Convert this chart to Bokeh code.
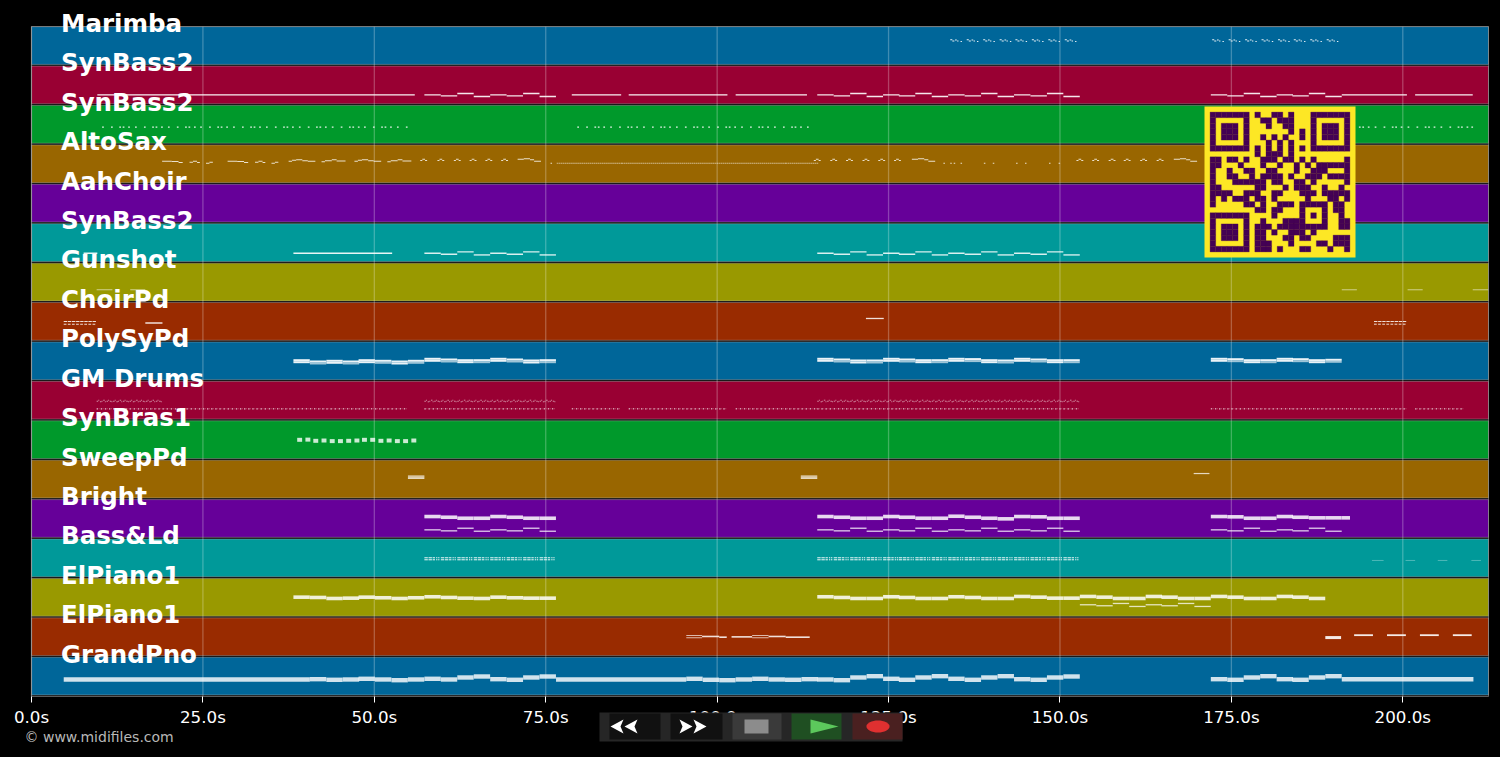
from bokeh.plotting import figure
from bokeh.models import Range1d, FixedTicker, ColumnDataSource, LinearAxis
from bokeh.core.properties import value
from bokeh.embed import file_html
from bokeh.resources import INLINE
import math

# ---------------------------------------------------------------- chart data
TRACK_NAMES = ["Marimba", "SynBass2", "SynBass2", "AltoSax", "AahChoir", "SynBass2", "Gunshot",
               "ChoirPd", "PolySyPd", "GM Drums", "SynBras1", "SweepPd", "Bright", "Bass&Ld",
               "ElPiano1", "ElPiano1", "GrandPno"]
BAND_COLORS = ["#006699", "#990033", "#00992B", "#996600", "#660099", "#009999", "#999900", "#992B00",
               "#006699", "#990033", "#00992B", "#996600", "#660099", "#009999", "#999900", "#992B00",
               "#006699"]
TICK_VALUES = [0, 25, 50, 75, 100, 125, 150, 175, 200]
TICK_LABELS = ["0.0s", "25.0s", "50.0s", "75.0s", "100.0s", "125.0s", "150.0s", "175.0s", "200.0s"]

# bar start times of the song sections (seconds)
BARS_A = [38.2, 40.6, 43.0, 45.4, 47.7, 50.1, 52.5, 54.9]
BARS_B = [57.3, 59.7, 62.1, 64.5, 66.9, 69.3, 71.7, 74.1]
BARS_C = [114.6, 117.0, 119.4, 121.8, 124.2, 126.5, 128.9, 131.3,
          133.7, 136.1, 138.5, 140.9, 143.3, 145.7, 148.1, 150.5]
BARS_E = [152.9, 155.3, 157.7, 160.1, 162.5, 164.8, 167.2, 169.6]
BARS_D = [172.0, 174.4, 176.8, 179.2, 181.6, 183.9, 186.3, 188.7]
BARS_F = [95.5, 97.9, 100.3, 102.7, 105.1, 107.5, 109.9, 112.3]

# notes are (start s, duration s, pitch position inside the band)
MARIMBA_MOTIF = [(0, .3, 13.2), (.3, .3, 14.5), (.7, .25, 13.5), (1.0, .2, 14.5), (1.5, .2, 15.0)]
MARIMBA_STARTS = [134.0, 136.4, 138.8, 141.2, 143.5, 145.9, 148.3, 150.7,
                  172.2, 174.6, 177.0, 179.4, 181.8, 184.1, 186.5, 188.9]

SYNBASS_A_LONG = [(9.6, 46.3, 28.9), (78.8, 7.2, 28.9), (87.1, 14.4, 28.9), (102.7, 10.4, 28.9),
                  (191.1, 9.5, 28.9), (201.8, 8.4, 28.9)]
SYNBASS_A_B = [28.9, 29.9, 27.6, 30.6, 28.9, 29.9, 27.6, 30.6]
SYNBASS_A_C = [28.9, 29.9, 27.6, 30.6, 28.9, 29.9, 27.6, 30.6, 28.9, 29.9, 27.6, 30.6, 28.9, 29.9, 27.6, 30.6]
SYNBASS_A_D = [28.9, 29.9, 27.6, 30.6, 28.9, 29.9, 27.6, 30.6]

SYNBASS_B_MOTIF = [(0, .25, 21.9), (1.3, .25, 21.9), (2.5, .25, 21.9), (3.0, .25, 21.9), (3.8, .25, 21.9)]
SYNBASS_B_STARTS = [10.3, 15.1, 19.9, 24.6, 29.4, 34.2, 39.0, 43.8, 48.5,
                    79.6, 84.4, 89.2, 94.0, 98.7, 103.5, 108.3,
                    172.0, 176.8, 181.6, 186.3, 191.1, 195.9, 200.7, 205.5]
SYNBASS_B_EXTRA = [(53.3, .25, 21.9), (54.6, .25, 21.9), (113.1, .25, 21.9), (210.0, .25, 21.9)]

ALTO_PHRASE_1 = [(0, 1.4, 16.5), (1.4, 1.0, 16.8), (2.4, .6, 17.8), (4.0, .5, 17.5), (4.5, .6, 16.5),
                 (5.1, .4, 17.8), (6.4, .5, 18.5), (6.9, .5, 17.5)]
ALTO_PHRASE_1_STARTS = [19.05, 28.6]
ALTO_PHRASE_2 = [(0, .5, 16.5), (.5, .6, 15.5), (1.1, .9, 15.1), (2.0, .8, 16.0), (2.8, 1.1, 16.5)]
ALTO_PHRASE_2_STARTS = [37.5, 47.1]
ALTO_PHRASE_3 = [(0, .5, 17.0), (.5, 1.0, 16.0), (1.5, .7, 15.1), (2.2, 1.3, 16.3)]
ALTO_PHRASE_3_STARTS = [42.3, 51.9]
ALTO_PHRASE_4 = [(0, .9, 14.6), (.9, .9, 14.1), (1.8, .6, 15.0), (2.4, 1.0, 16.5)]
ALTO_PHRASE_4_STARTS = [70.9, 128.4, 166.6]
ALTO_HAT = [(0, .3, 15.8), (.3, .4, 14.6), (.7, .3, 15.8)]
ALTO_HAT_STARTS = [56.7, 59.2, 61.6, 63.9, 66.2, 68.5, 114.1, 116.5, 118.8, 121.2, 123.5, 125.8,
                   152.4, 154.7, 157.1, 159.3, 161.7, 164.1]
ALTO_DOT_TIMES = [75.7, 133.0, 134.0, 134.5, 135.5, 138.9, 140.2, 143.6, 144.9, 148.4, 149.8]
ALTO_RUN_MOTIF = [(0, .24, 18.5), (.3, .24, 18.5), (.6, .24, 18.5), (.9, .24, 18.5),
                  (1.2, .24, 18.5), (1.5, .24, 18.5), (1.8, .24, 18.5), (2.1, .24, 18.5)]
ALTO_RUN_STARTS = [76.6, 79.0, 81.4, 83.8, 86.1, 88.5, 90.9, 93.3, 95.7, 98.1, 100.5, 102.9,
                   105.3, 107.7, 110.0, 112.4]

SYNBASS_C_LONG = [(7.6, 2.0, 29.7), (38.2, 14.4, 29.7)]
SYNBASS_C_B = [29.7, 30.7, 28.4, 31.4, 29.7, 30.7, 28.4, 31.4]
SYNBASS_C_C = [29.7, 30.7, 28.4, 31.4, 29.7, 30.7, 28.4, 31.4, 29.7, 30.7, 28.4, 31.4, 29.7, 30.7, 28.4, 31.4]

GUNSHOT_NOTES = [(9.5, 2.3, 26.8), (14.4, 2.2, 26.8), (191.1, 2.2, 26.8), (200.7, 2.2, 26.8), (210.2, 2.3, 26.8)]

CHOIR_SOLID = [(16.6, 2.5, 20.6), (121.7, 2.6, 16.1)]
CHOIR_DASH = [(0, .5, 19.1), (.6, .5, 19.1), (1.2, .5, 19.1), (1.8, .5, 19.1), (2.4, .5, 19.1), (3.0, .5, 19.1),
              (3.6, .5, 19.1), (4.2, .5, 19.1), (0, .4, 21.8), (.6, .4, 21.8), (1.2, .4, 21.8), (1.8, .4, 21.8),
              (2.4, .4, 21.8), (3.0, .4, 21.8), (3.6, .4, 21.8), (4.2, .4, 21.8)]
CHOIR_DASH_STARTS = [4.7, 195.8]

POLY_A = [19.4, 20.7, 20.0, 20.7, 19.4, 20.0, 20.7, 20.0]
POLY_B = [18.0, 18.7, 19.4, 19.4, 18.0, 18.7, 19.7, 19.4]
POLY_C = [18.0, 18.7, 19.7, 19.7, 18.0, 18.7, 19.4, 19.4, 18.0, 18.3, 19.4, 19.7, 18.0, 18.7, 19.4, 19.4]
POLY_D = [18.0, 18.4, 19.4, 19.4, 18.0, 18.4, 19.4, 19.0]

DRUM_ACCENT = [(0, .2, 27.6), (.6, .2, 27.6), (1.2, .2, 27.6), (1.8, .2, 27.6)]
DRUM_GHOST = [(.3, .12, 27.6), (.9, .12, 27.6), (1.5, .12, 27.6), (2.1, .12, 27.6)]
DRUM_LOW_STARTS = [9.5, 11.9, 14.3, 16.7, 19.1, 21.4, 23.8, 26.2, 28.6, 31.0, 33.4, 35.8, 38.2, 40.6, 43.0,
                   45.4, 47.7, 50.1, 52.5, 57.3, 59.7, 62.1, 64.5, 66.9, 69.3, 71.7, 74.1, 78.8, 81.2, 83.6,
                   87.1, 89.5, 91.9, 94.3, 96.7, 99.1, 102.7, 105.1, 107.5, 109.9, 112.3,
                   114.6, 117.0, 119.4, 121.8, 124.2, 126.5, 128.9, 131.3, 133.7, 136.1, 138.5, 140.9,
                   143.3, 145.7, 148.1, 150.5, 172.0, 174.4, 176.8, 179.2, 181.6, 183.9, 186.3, 188.7,
                   191.1, 193.5, 195.9, 198.3, 201.8, 204.2, 206.6]
DRUM_MOTIF_HIGH = [(0, .22, 20.0), (.24, .14, 19.0), (.48, .22, 20.6), (.72, .14, 20.0), (.96, .22, 19.0),
                   (1.2, .14, 20.6), (1.44, .22, 20.0), (1.68, .14, 19.0), (1.92, .22, 20.0), (2.16, .14, 20.6)]
DRUM_HIGH_STARTS = [9.5, 11.9, 14.3, 16.7, 57.3, 59.7, 62.1, 64.5, 66.9, 69.3, 71.7, 74.1,
                    114.6, 117.0, 119.4, 121.8, 124.2, 126.5, 128.9, 131.3, 133.7, 136.1, 138.5, 140.9,
                    143.3, 145.7, 148.1, 150.5]

BRASS_TIMES = [38.75, 39.95, 41.1, 42.3, 43.5, 44.7, 45.9, 47.1, 48.2, 49.4, 50.6, 51.8, 53.0, 54.2, 55.4]
BRASS_LEVELS = [19.2, 19.0, 20.2, 19.9, 20.5, 20.5, 20.2, 19.9, 19.2, 19.2, 20.2, 19.9, 20.5, 20.5, 19.9]

SWEEP_NOTES = [(54.9, 2.4, 16.0), (54.9, 2.4, 17.2), (54.9, 2.4, 18.4),
               (112.2, 2.4, 16.0), (112.2, 2.4, 17.2), (112.2, 2.4, 18.4), (169.5, 2.3, 13.5)]

BRIGHT_UP_B = [17.1, 17.8, 18.8, 18.8, 17.1, 17.8, 18.8, 18.8]
BRIGHT_UP_C = [17.1, 17.8, 18.8, 18.8, 17.1, 17.8, 18.8, 18.8, 16.8, 17.8, 18.8, 19.4, 17.1, 17.4, 18.8, 18.8]
BRIGHT_UP_D = [17.1, 17.4, 18.8, 18.8, 17.1, 17.8, 18.4, 18.4]
BRIGHT_UP_END = [(191.1, 1.2, 18.4)]
BRIGHT_LOW_B = [30.4, 31.4, 28.8, 31.8, 30.4, 31.4, 28.8, 31.8]
BRIGHT_LOW_C = [30.4, 31.4, 28.8, 31.8, 30.4, 31.4, 28.8, 31.8, 30.4, 31.4, 28.8, 31.8, 30.4, 31.4, 28.8, 31.8]
BRIGHT_LOW_D = [30.4, 31.4, 28.8, 31.8, 30.4, 31.4, 28.8, 31.8]

BASS_MOTIF = [(0, .5, 18.9), (.6, .5, 18.9), (1.2, .35, 18.9), (1.7, .2, 18.9), (2.0, .2, 18.9),
              (0, .5, 20.9), (.6, .5, 20.9), (1.2, .35, 20.9), (1.7, .2, 20.9), (2.0, .2, 20.9)]
BASS_STARTS = [57.3, 59.7, 62.1, 64.5, 66.9, 69.3, 71.7, 74.1,
               114.6, 117.0, 119.4, 121.8, 124.2, 126.5, 128.9, 131.3,
               133.7, 136.1, 138.5, 140.9, 143.3, 145.7, 148.1, 150.5]
BASS_FAINT = [(195.5, 1.7, 21.6), (200.4, 1.4, 21.6), (205.1, 1.4, 21.6), (210.0, 1.4, 21.6)]

PIANO_A = [18.9, 19.2, 20.2, 19.9, 18.9, 19.5, 20.2, 19.5]
PIANO_B = [18.5, 19.2, 19.9, 20.2, 18.9, 19.5, 19.9, 19.9]
PIANO_C = [18.5, 19.2, 20.2, 20.2, 18.5, 19.2, 20.2, 20.2, 18.5, 19.2, 20.2, 20.2, 18.2, 18.9, 19.9, 19.9]
PIANO_E = [18.2, 18.9, 20.2, 20.2, 18.2, 18.9, 20.2, 20.2]
PIANO_D = [18.2, 18.9, 20.2, 20.2, 18.2, 18.9, 20.2]
PIANO_LOW_E = [26.5, 27.5, 25.2, 28.2, 26.5, 27.5, 25.2, 28.2]

PIANO2_NOTES = [(97.8, 2.5, 18.8), (100.3, 1.1, 19.5), (102.1, 3.0, 19.2), (107.5, 2.5, 18.8), (110.0, 3.5, 19.5)]
PIANO2_HOLLOW = [(95.5, 2.3, 17.8), (95.5, 2.3, 20.1), (105.1, 2.4, 17.8), (105.1, 2.4, 20.1)]
PIANO2_THICK = [(188.7, 2.3, 19.9)]
PIANO2_LATE = [(192.9, 2.75, 17.5), (197.7, 2.75, 17.5), (202.5, 2.75, 17.5), (207.3, 2.75, 17.5)]

GRAND_LONG = [(4.7, 35.9, 22.4), (76.5, 19.0, 22.4), (191.1, 19.2, 22.1)]
GRAND_A_BARS = [40.6, 43.0, 45.4, 47.7, 50.1, 52.5, 54.9]
GRAND_A = [22.1, 22.7, 22.4, 21.7, 22.4, 23.1, 22.4]
GRAND_B = [21.7, 22.4, 20.4, 19.4, 22.1, 22.7, 20.4, 19.4]
GRAND_F = [21.7, 22.7, 23.1, 22.4, 21.7, 22.4, 22.7, 22.1]
GRAND_C = [22.4, 23.1, 20.4, 19.1, 21.7, 22.7, 20.4, 19.1, 21.7, 22.7, 20.4, 19.1, 22.1, 22.7, 20.4, 19.4]
GRAND_D = [22.1, 22.7, 20.4, 19.1, 22.1, 22.7, 20.4, 19.1]

QR_ROWS = [
    "#######.#..##.#...#######",
    "#.....#..##.###...#.....#",
    "#.###.#...#..##...#.###.#",
    "#.###.#.......#.#.#.###.#",
    "#.###.#..#.#.#..#.#.###.#",
    "#.....#...#.#.#...#.....#",
    "#######.#.#.#.#.#.#######",
    "........#.###.#..........",
    "##.##.#..###.##.#.#.....#",
    "##...#...#..#..#.#.######",
    "#..#..##..##...#..###...#",
    "#..##..#.####.#..###.####",
    "#...######.##..##.#.....#",
    "##......##...#.###..#..#.",
    "####..###..##...###.#####",
    "#.#.###.##.#.....#...##.#",
    "#.....##.#..###.#####.##.",
    "........##.##...#...#.##.",
    "#######....#....#.#.#..#.",
    "#.....#..#...####...#..##",
    "#.###.#.###.#########..##",
    "#.###.#.##.#..###.#......",
    "#.###.#.##...##.##....###",
    "#.....#.###...#....##.###",
    "#######.###.#...##...#..#",
]

# ---------------------------------------------------------------- note layout
BAND_PX = 670 / 17          # pixel height of one band
PX_PER_S = 1457 / 212.5
BAR = 2.39
left, right, top, bottom, alpha = [], [], [], [], []


def X(px):
    return (px - 31) / PX_PER_S


def Y(py):
    return (py - 26) / BAND_PX


def note(row, start, dur, level, h, a):
    left.append(start)
    right.append(start + dur)
    top.append(row + (level - h / 2) / BAND_PX)
    bottom.append(row + (level + h / 2) / BAND_PX)
    alpha.append(a)


def notes(row, items, h, a):
    for s, d, l in items:
        note(row, s, d, l, h, a)


def motif(row, starts, pattern, h, a):
    for s in starts:
        for dt, d, l in pattern:
            note(row, s + dt, d, l, h, a)


def bars(row, starts, levels, h, a):
    for s, l in zip(starts, levels):
        note(row, s, BAR, l, h, a)


def double(row, starts, levels, gap, a1, a2):
    for i, (s, l) in enumerate(zip(starts, levels)):
        note(row, s, BAR, l - gap / 2, gap, a1)
        note(row, s, BAR, l + gap / 2, gap, a2 if i % 2 else a1)


motif(0, MARIMBA_STARTS, MARIMBA_MOTIF, 1.0, .9)

notes(1, SYNBASS_A_LONG, 1.3, .95)
bars(1, BARS_B, SYNBASS_A_B, 1.3, .9)
bars(1, BARS_C, SYNBASS_A_C, 1.3, .9)
bars(1, BARS_D, SYNBASS_A_D, 1.3, .9)

motif(2, SYNBASS_B_STARTS, SYNBASS_B_MOTIF, 1.2, .9)
notes(2, SYNBASS_B_EXTRA, 1.2, .9)

motif(3, ALTO_PHRASE_1_STARTS, ALTO_PHRASE_1, 1.0, .8)
motif(3, ALTO_PHRASE_2_STARTS, ALTO_PHRASE_2, 1.0, .8)
motif(3, ALTO_PHRASE_3_STARTS, ALTO_PHRASE_3, 1.0, .8)
motif(3, ALTO_PHRASE_4_STARTS, ALTO_PHRASE_4, 1.0, .8)
motif(3, ALTO_HAT_STARTS, ALTO_HAT, 1.0, .8)
for t in ALTO_DOT_TIMES:
    note(3, t, .22, 18.4, 1.0, .8)
motif(3, ALTO_RUN_STARTS, ALTO_RUN_MOTIF, 1.0, .55)

notes(5, SYNBASS_C_LONG, 1.3, .9)
bars(5, BARS_B, SYNBASS_C_B, 1.3, .85)
bars(5, BARS_C, SYNBASS_C_C, 1.3, .85)

notes(6, GUNSHOT_NOTES, 1.0, .55)

notes(7, CHOIR_SOLID, 1.3, .85)
motif(7, CHOIR_DASH_STARTS, CHOIR_DASH, 1.0, .85)

double(8, BARS_A, POLY_A, 2.0, .92, .62)
double(8, BARS_B, POLY_B, 2.0, .92, .62)
double(8, BARS_C, POLY_C, 2.0, .92, .62)
double(8, BARS_D, POLY_D, 2.0, .92, .62)

motif(9, DRUM_LOW_STARTS, DRUM_ACCENT, 1.2, .75)
motif(9, DRUM_LOW_STARTS, DRUM_GHOST, 1.0, .35)
motif(9, DRUM_HIGH_STARTS, DRUM_MOTIF_HIGH, 1.0, .55)

for t, l in zip(BRASS_TIMES, BRASS_LEVELS):
    note(10, t, .72, l, 4.0, .8)

notes(11, SWEEP_NOTES, 1.2, .75)

bars(12, BARS_B, BRIGHT_UP_B, 3.6, .85)
bars(12, BARS_C, BRIGHT_UP_C, 3.6, .85)
bars(12, BARS_D, BRIGHT_UP_D, 3.6, .85)
notes(12, BRIGHT_UP_END, 3.6, .85)
bars(12, BARS_B, BRIGHT_LOW_B, 1.4, .75)
bars(12, BARS_C, BRIGHT_LOW_C, 1.4, .75)
bars(12, BARS_D, BRIGHT_LOW_D, 1.4, .75)

motif(13, BASS_STARTS, BASS_MOTIF, 1.1, .85)
notes(13, BASS_FAINT, 1.0, .3)

bars(14, BARS_A, PIANO_A, 3.6, .85)
bars(14, BARS_B, PIANO_B, 3.6, .85)
bars(14, BARS_C, PIANO_C, 3.6, .85)
bars(14, BARS_E, PIANO_E, 3.6, .85)
bars(14, BARS_D, PIANO_D, 3.6, .85)
bars(14, BARS_E, PIANO_LOW_E, 1.3, .75)

notes(15, PIANO2_NOTES, 1.6, .85)
notes(15, PIANO2_HOLLOW, .9, .75)
notes(15, PIANO2_THICK, 3.0, .9)
notes(15, PIANO2_LATE, 1.8, .9)

notes(16, GRAND_LONG, 4.4, .82)
bars(16, GRAND_A_BARS, GRAND_A, 4.4, .82)
bars(16, BARS_B, GRAND_B, 4.4, .82)
bars(16, BARS_F, GRAND_F, 4.4, .82)
bars(16, BARS_C, GRAND_C, 4.4, .82)
bars(16, BARS_D, GRAND_D, 4.4, .82)

# ---------------------------------------------------------------- figure
# The frame fills the whole canvas, so labels and player buttons can sit around the bands.
p = figure(width=1500, height=757, output_backend="svg", toolbar_location=None,
           x_range=Range1d(X(0), X(1500)), y_range=Range1d(Y(757), Y(0)),
           x_axis_type=None, y_axis_type=None,
           min_border=0, background_fill_color="#000000", border_fill_color="#000000",
           outline_line_color=None)
p.grid.visible = False

n = len(TRACK_NAMES)
p.quad(left=[0] * n, right=[212.5] * n, top=[i + .004 for i in range(n)], bottom=[i + .962 for i in range(n)],
       fill_color=BAND_COLORS, line_color="#b0b0b0", line_alpha=.45, line_width=1)

p.quad(source=ColumnDataSource(dict(left=left, right=right, top=top, bottom=bottom, alpha=alpha)),
       left="left", right="right", top="top", bottom="bottom",
       fill_color="#ffffff", fill_alpha="alpha", line_color=None)

p.segment(x0=TICK_VALUES, x1=TICK_VALUES, y0=[0] * len(TICK_VALUES), y1=[17] * len(TICK_VALUES),
          line_color="#ffffff", line_alpha=.25, line_width=1.3)
p.quad(left=[0], right=[212.5], top=[0], bottom=[17], fill_color=None, line_color="#9a9a9a", line_alpha=.6)

ax = LinearAxis(fixed_location=17, ticker=FixedTicker(ticks=TICK_VALUES))
ax.major_label_overrides = dict(zip(TICK_VALUES, TICK_LABELS))
ax.major_label_text_color = "#ffffff"
ax.major_label_text_font = "DejaVu Sans"
ax.major_label_text_font_size = "16.7px"
ax.major_label_standoff = 4
ax.major_tick_line_color = "#ffffff"
ax.major_tick_line_width = 1
ax.major_tick_out = 6
ax.major_tick_in = 0
ax.minor_tick_line_color = None
ax.axis_line_color = None
p.add_layout(ax, "below")

# QR code
qr_x, qr_y, qr_size = X(1204), Y(106), 151
p.quad(left=[qr_x], right=[qr_x + qr_size / PX_PER_S], top=[qr_y], bottom=[qr_y + qr_size / BAND_PX],
       fill_color="#FDE725", line_color=None, level="annotation")
m = qr_size / 27
ql, qr, qt, qb = [], [], [], []
for r, row in enumerate(QR_ROWS):
    for c, ch in enumerate(row):
        if ch == "#":
            ql.append(qr_x + (c + 1) * m / PX_PER_S)
            qr.append(qr_x + (c + 2) * m / PX_PER_S)
            qt.append(qr_y + (r + 1) * m / BAND_PX)
            qb.append(qr_y + (r + 2) * m / BAND_PX)
p.quad(left=ql, right=qr, top=qt, bottom=qb, fill_color="#440154", line_color="#440154", line_width=.3,
       level="annotation")

# track names
p.text(x=[X(60.5)] * n, y=list(range(n)), text=TRACK_NAMES, y_offset=-3, text_color="#ffffff",
       text_font=value("DejaVu Sans"), text_font_style="bold", text_font_size="24.5px",
       text_baseline="alphabetic", level="annotation")
p.text(x=[X(24)], y=[Y(736)], text=["\u00a9 www.midifiles.com"], text_color="#b8b8b8",
       text_font=value("DejaVu Sans"), text_font_size="14px", text_baseline="middle", level="annotation")


# player buttons
def box(x0, x1, y0, y1, color):
    p.quad(left=[X(x0)], right=[X(x1)], top=[Y(y0)], bottom=[Y(y1)], fill_color=color,
           line_color=None, level="annotation")


def poly(pts, color):
    p.patch(x=[X(a) for a, _ in pts], y=[Y(b) for _, b in pts], fill_color=color,
            line_color=None, level="annotation")


box(599, 902, 712, 741, "#262626")
box(609, 660, 713, 739, "#111111")
box(670, 722, 713, 739, "#111111")
box(732, 781, 713, 739, "#3a3a3a")
box(791, 841, 713, 739, "#1f4f22")
box(852, 902, 713, 739, "#4a2020")
for x0 in (610, 624):
    poly([(x0, 726), (x0 + 13, 719), (x0 + 10, 726), (x0 + 13, 733)], "#ffffff")
for x0 in (679, 693):
    poly([(x0 + 13, 726), (x0, 719), (x0 + 3, 726), (x0, 733)], "#ffffff")
box(744, 768, 719, 733, "#8c8c8c")
poly([(810, 719), (838, 726), (810, 733)], "#5cc85c")
poly([(877.5 + 11.5 * math.cos(k * math.pi / 16), 726 + 6 * math.sin(k * math.pi / 16)) for k in range(32)], "#e03030")

html = file_html(p, INLINE)
html = html.replace("<head>", "<head><style>html,body{background:#000;overflow:hidden}</style>", 1)
open("out.html", "w").write(html)
